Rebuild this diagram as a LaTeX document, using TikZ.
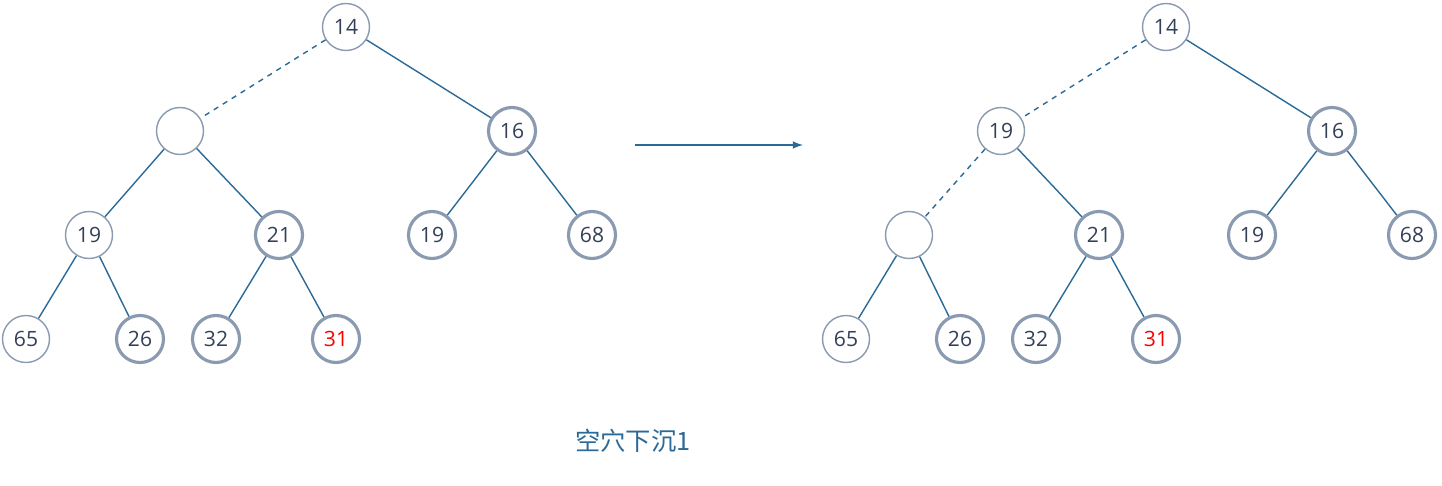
\documentclass[tikz,border=0pt]{standalone}
\usepackage{fontspec}
\setmainfont{Open Sans}
\newfontfamily\cjk{Noto Sans CJK SC}
\definecolor{edgeblue}{HTML}{2B6A97}
\definecolor{ringgray}{HTML}{8A9AB0}
\definecolor{numdark}{HTML}{34405A}
\begin{document}
\begin{tikzpicture}[x=0.02cm,y=-0.02cm,
    thin node/.style={circle,draw=ringgray,line width=0.8pt,minimum size=0.94cm,inner sep=0pt,fill=white,text=numdark,font=\large},
    thick node/.style={thin node,line width=1.8pt},
    tree edge/.style={draw=edgeblue,line width=0.8pt},
    hole edge/.style={tree edge,dashed}
    ]
  \useasboundingbox (0,0) rectangle (1442,486);
  % left tree
  \node[thin node] (a1) at (346,27) {14};
  \node[thin node] (a2) at (180,131) {};
  \node[thick node] (a3) at (512,131) {16};
  \node[thin node] (a4) at (89,235) {19};
  \node[thick node] (a5) at (279,235) {21};
  \node[thick node] (a6) at (432,235) {19};
  \node[thick node] (a7) at (592,235) {68};
  \node[thin node] (a8) at (26,339) {65};
  \node[thick node] (a9) at (140,339) {26};
  \node[thick node] (a10) at (216,339) {32};
  \node[thick node,text=red] (a11) at (336,339) {31};
  \path (a1) edge[hole edge] (a2)
        (a1) edge[tree edge] (a3)
        (a2) edge[tree edge] (a4)
        (a2) edge[tree edge] (a5)
        (a3) edge[tree edge] (a6)
        (a3) edge[tree edge] (a7)
        (a4) edge[tree edge] (a8)
        (a4) edge[tree edge] (a9)
        (a5) edge[tree edge] (a10)
        (a5) edge[tree edge] (a11);
  % right tree
  \node[thin node] (b1) at (1166,27) {14};
  \node[thin node] (b2) at (1001,131) {19};
  \node[thick node] (b3) at (1332,131) {16};
  \node[thin node] (b4) at (909,235) {};
  \node[thick node] (b5) at (1099,235) {21};
  \node[thick node] (b6) at (1252,235) {19};
  \node[thick node] (b7) at (1412,235) {68};
  \node[thin node] (b8) at (846,339) {65};
  \node[thick node] (b9) at (960,339) {26};
  \node[thick node] (b10) at (1036,339) {32};
  \node[thick node,text=red] (b11) at (1156,339) {31};
  \path (b1) edge[hole edge] (b2)
        (b1) edge[tree edge] (b3)
        (b2) edge[hole edge] (b4)
        (b2) edge[tree edge] (b5)
        (b3) edge[tree edge] (b6)
        (b3) edge[tree edge] (b7)
        (b4) edge[tree edge] (b8)
        (b4) edge[tree edge] (b9)
        (b5) edge[tree edge] (b10)
        (b5) edge[tree edge] (b11);
  % arrow and caption
  \coordinate (s) at (635,145);
  \coordinate (t) at (803,145);
  \draw[edgeblue,line width=1pt,-latex] (s) -- (t);
  \node[text=edgeblue,font=\cjk\Large] (cap) at (633,441) {空穴下沉1};
\end{tikzpicture}
\end{document}
